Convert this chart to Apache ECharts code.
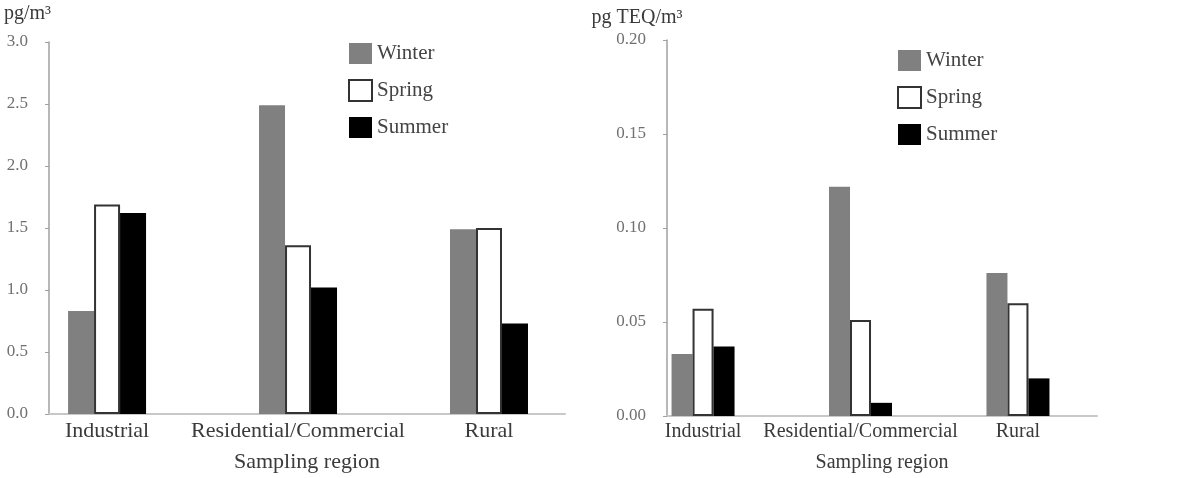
<!DOCTYPE html>
<html>
<head>
<meta charset="utf-8">
<script src="https://cdn.jsdelivr.net/npm/echarts@6/dist/echarts.min.js"></script>
<style>
  html, body { margin: 0; padding: 0; background: #fff; }
  #chart { width: 1191px; height: 478px; }
</style>
</head>
<body>
<div id="chart"></div>
<script>
// sampling regions (x categories)
const regions = ['Industrial', 'Residential/Commercial', 'Rural']
const seasons = ['Winter', 'Spring', 'Summer']

// left panel: concentration, pg/m3
const concWinter = [0.83, 2.49, 1.49]
const concSpring = [1.69, 1.36, 1.50]
const concSummer = [1.62, 1.02, 0.73]

// right panel: toxic equivalent, pg TEQ/m3
const teqWinter = [0.033, 0.122, 0.076]
const teqSpring = [0.057, 0.051, 0.060]
const teqSummer = [0.037, 0.007, 0.020]

const FONT = '"Liberation Serif", "Times New Roman", serif'

const styles = {
  Winter: { color: '#808080' },
  Spring: { color: '#ffffff', borderColor: '#333333', borderWidth: 2 },
  Summer: { color: '#000000' }
}

function bars (name, values, idx, width) {
  return {
    name: name,
    type: 'bar',
    xAxisIndex: idx,
    yAxisIndex: idx,
    data: values.map((v, i) => [i, v]),
    barWidth: width,
    barGap: '0%',
    itemStyle: styles[name],
    emphasis: { disabled: true }
  }
}

function xAxisFor (idx, min, max, fontSize) {
  return {
    type: 'value',
    gridIndex: idx,
    min: min,
    max: max,
    splitLine: { show: false },
    axisTick: { show: false },
    axisLine: { show: true, lineStyle: { color: '#c8c8c8', width: 2 } },
    axisLabel: {
      customValues: [0, 1, 2],
      formatter: v => regions[Math.round(v)],
      color: '#3a3a3a',
      fontFamily: FONT,
      fontSize: fontSize,
      margin: 6
    },
    name: 'Sampling region',
    nameLocation: 'middle',
    nameGap: 37,
    nameTextStyle: { color: '#3a3a3a', fontFamily: FONT, fontSize: fontSize }
  }
}

function yAxisFor (idx, max, interval, digits, unit, nameStyle, nameGap) {
  return {
    type: 'value',
    gridIndex: idx,
    min: 0,
    max: max,
    interval: interval,
    splitLine: { show: false },
    axisLine: { show: true, onZero: false, lineStyle: { color: '#a0a0a0', width: 1.5 } },
    axisTick: { show: true, length: 4, lineStyle: { color: '#a0a0a0' } },
    axisLabel: {
      formatter: v => v.toFixed(digits),
      color: '#707070',
      fontFamily: FONT,
      fontSize: 17,
      margin: 21
    },
    name: unit,
    nameLocation: 'end',
    nameGap: nameGap,
    nameTextStyle: Object.assign({ color: '#3a3a3a', fontFamily: FONT, fontSize: 20 }, nameStyle)
  }
}

function legendFor (left, top) {
  return {
    data: seasons,
    orient: 'vertical',
    left: left,
    top: top,
    icon: 'rect',
    itemWidth: 23,
    itemHeight: 21,
    itemGap: 15,
    selectedMode: false,
    textStyle: { color: '#444', fontFamily: FONT, fontSize: 21 }
  }
}

const chart = echarts.init(document.getElementById('chart'))
const option = {
  animation: false,
  backgroundColor: '#ffffff',
  grid: [
    { left: 49, right: 626, top: 42, bottom: 60 },
    { left: 667, right: 94, top: 40, bottom: 61 }
  ],
  legend: [legendFor(343, 38), legendFor(892, 45)],
  xAxis: [
    xAxisFor(0, -0.304, 2.398, 22),
    xAxisFor(1, -0.229, 2.502, 20)
  ],
  yAxis: [
    yAxisFor(0, 3, 0.5, 1, 'pg/m³', { align: 'right', padding: [0, -2, 0, 0] }, 18),
    yAxisFor(1, 0.2, 0.05, 2, 'pg TEQ/m³', { align: 'center', padding: [0, 60, 0, 0] }, 12)
  ],
  series: [
    bars('Winter', concWinter, 0, 26),
    bars('Spring', concSpring, 0, 26),
    bars('Summer', concSummer, 0, 26),
    bars('Winter', teqWinter, 1, 21),
    bars('Spring', teqSpring, 1, 21),
    bars('Summer', teqSummer, 1, 21)
  ]
}
chart.setOption(option)
window.addEventListener('resize', function () {
  chart.resize()
})
</script>
</body>
</html>
